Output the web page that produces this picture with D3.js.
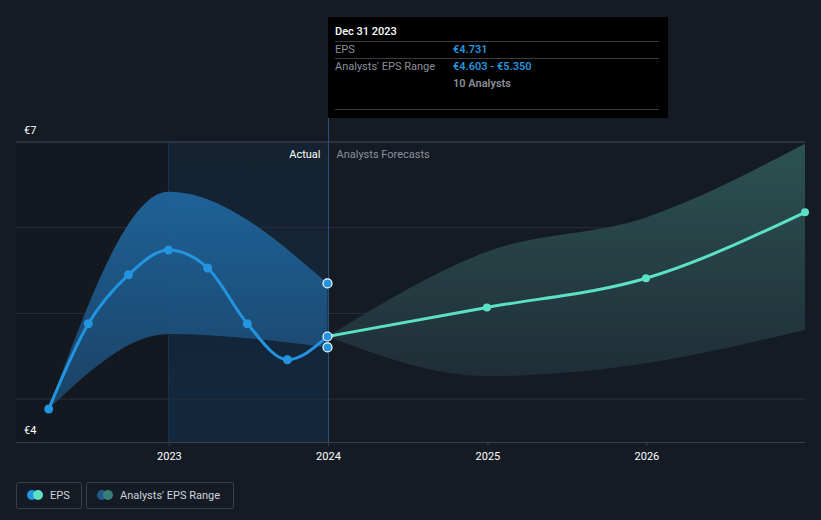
<!DOCTYPE html>
<html><head><meta charset="utf-8">
<script src="https://cdn.jsdelivr.net/npm/d3@7"></script>
<style>
html,body{margin:0;padding:0;background:#151b25;}
svg{display:block;font-family:Roboto,"Open Sans",sans-serif;}
</style></head>
<body><svg id="c" width="821" height="520"></svg>
<script>
// ---- data ----
const actualDates = ["2022-03-31","2022-06-30","2022-09-30","2022-12-31","2023-03-31","2023-06-30","2023-09-30","2023-12-31"];
const actualEPS   = [3.885, 4.88, 5.45, 5.74, 5.53, 4.88, 4.46, 4.731];
const actualRangeDates = ["2022-03-31","2022-12-31","2023-12-31"];
const actualRangeLow  = [3.885, 4.76, 4.603];
const actualRangeHigh = [3.885, 6.42, 5.350];
const forecastDates = ["2023-12-31","2024-12-31","2025-12-31","2026-12-31"];
const forecastEPS   = [4.731, 5.07, 5.41, 6.18];
const forecastLow   = [4.731, 4.27, 4.42, 4.81];
const forecastHigh  = [4.731, 5.72, 6.12, 6.98];
const yTicks = [4, 5, 6, 7];
const yLabels = ["€4", "€7"];
const xTickYears = [2023, 2024, 2025, 2026];

(function(){
const P = d3.timeParse("%Y-%m-%d");
const svg = d3.select("#c");
const pL = 16, pR = 805, pT = 142, pB = 442;

const x = d3.scaleTime().domain([P("2022-01-15"), P("2026-12-31")]).range([pL, pR]);
const y = d3.scaleLinear().domain([3.5, 7]).range([pB, pT]);
const xNow = Math.round(x(P("2023-12-31"))) + 0.5;
const xYearAgo = Math.round(x(P("2022-12-31"))) + 0.5;

const defs = svg.append("defs");
const g1 = defs.append("linearGradient").attr("id","hl").attr("x1",0).attr("x2",0).attr("y1",0).attr("y2",1);
g1.append("stop").attr("offset","0%").attr("stop-color","#142231");
g1.append("stop").attr("offset","100%").attr("stop-color","#13283d");
const g2 = defs.append("linearGradient").attr("id","fc").attr("x1",0).attr("x2",0).attr("y1",0).attr("y2",1);
g2.append("stop").attr("offset","0%").attr("stop-color","#2f5857");
g2.append("stop").attr("offset","100%").attr("stop-color","#203038");
const g3 = defs.append("linearGradient").attr("id","ac").attr("x1",0).attr("x2",0).attr("y1",0).attr("y2",1);
g3.append("stop").attr("offset","0%").attr("stop-color","#1f659c");
g3.append("stop").attr("offset","100%").attr("stop-color","#1b4368");

// past region backgrounds
svg.append("rect").attr("x", pL).attr("y", pT).attr("width", xYearAgo - pL).attr("height", pB - pT).attr("fill", "#141820");
svg.append("rect").attr("x", xYearAgo).attr("y", pT).attr("width", xNow - xYearAgo).attr("height", pB - pT).attr("fill", "url(#hl)");

// gridlines
svg.append("g").selectAll("line").data(yTicks).join("line")
  .attr("x1", pL).attr("x2", pR).attr("y1", d => y(d)).attr("y2", d => y(d))
  .attr("stroke", "#2a303b").attr("stroke-width", 1);
svg.append("line").attr("x1", pL).attr("x2", pR).attr("y1", pT).attr("y2", pT).attr("stroke", "#3a404b");

// vertical lines
svg.append("line").attr("x1", xYearAgo).attr("x2", xYearAgo).attr("y1", pT).attr("y2", pB).attr("stroke", "#1a3249").attr("stroke-width", 1);
svg.append("line").attr("x1", xNow).attr("x2", xNow).attr("y1", 17).attr("y2", pB).attr("stroke", "#2a4f72").attr("stroke-width", 1);

// x axis
const xAxis = d3.axisBottom(x).tickValues(xTickYears.map(yr => new Date(yr, 0, 1))).tickFormat(d3.timeFormat("%Y")).tickSize(4).tickPadding(6);
const ax = svg.append("g").attr("transform", `translate(0,${pB})`).call(xAxis);
ax.select(".domain").attr("stroke", "#3a404b").attr("d", `M${pL},0.5H${pR}`);
ax.selectAll(".tick line").attr("stroke", "#3a404b");
ax.selectAll(".tick text").attr("fill", "#ffffff").attr("font-size", 11).attr("font-family", "Roboto, sans-serif");

// y labels
svg.append("text").attr("x", 24).attr("y", 134).attr("fill", "#fff").attr("font-size", 11).text(yLabels[1]);
svg.append("text").attr("x", 24).attr("y", 434).attr("fill", "#fff").attr("font-size", 11).text(yLabels[0]);

// actual range band
const ar = actualRangeDates.map((d,i) => ({d: P(d), lo: actualRangeLow[i], hi: actualRangeHigh[i]}));
svg.append("path").datum(ar)
  .attr("d", d3.area().x(d => x(d.d)).y0(d => y(d.lo)).y1(d => y(d.hi)).curve(d3.curveMonotoneX))
  .attr("fill", "url(#ac)").attr("opacity", 0.95);

// forecast band
const fr = forecastDates.map((d,i) => ({d: P(d), lo: forecastLow[i], hi: forecastHigh[i], v: forecastEPS[i]}));
svg.append("path").datum(fr)
  .attr("d", d3.area().x(d => x(d.d)).y0(d => y(d.lo)).y1(d => y(d.hi)).curve(d3.curveMonotoneX))
  .attr("fill", "url(#fc)").attr("opacity", 0.9);

// labels Actual / Analysts Forecasts
svg.append("text").attr("x", xNow - 8).attr("y", 158).attr("text-anchor", "end").attr("fill", "#ffffff").attr("font-size", 11).text("Actual");
svg.append("text").attr("x", xNow + 8).attr("y", 158).attr("fill", "#8b9099").attr("font-size", 11).text("Analysts Forecasts");

// forecast line
svg.append("path").datum(fr)
  .attr("d", d3.line().x(d => x(d.d)).y(d => y(d.v)).curve(d3.curveMonotoneX))
  .attr("fill", "none").attr("stroke", "#5ce0c6").attr("stroke-width", 3);
svg.append("g").selectAll("circle").data(fr.slice(1)).join("circle")
  .attr("cx", d => x(d.d)).attr("cy", d => y(d.v)).attr("r", 4).attr("fill", "#5ce0c6");

// actual line
const ae = actualDates.map((d,i) => ({d: P(d), v: actualEPS[i]}));
svg.append("path").datum(ae)
  .attr("d", d3.line().x(d => x(d.d)).y(d => y(d.v)).curve(d3.curveMonotoneX))
  .attr("fill", "none").attr("stroke", "#2394df").attr("stroke-width", 3);
svg.append("g").selectAll("circle").data(ae.slice(0, -1)).join("circle")
  .attr("cx", d => x(d.d)).attr("cy", d => y(d.v)).attr("r", 4.5).attr("fill", "#2394df");

// end markers at now
const lastR = ar[ar.length - 1];
const endPts = [lastR.hi, lastR.lo, actualEPS[actualEPS.length - 1]];
svg.append("g").selectAll("circle").data(endPts).join("circle")
  .attr("cx", x(P("2023-12-31"))).attr("cy", d => y(d)).attr("r", 4.5)
  .attr("fill", "#2394df").attr("stroke", "#ffffff").attr("stroke-width", 1.2);

// tooltip
const tt = svg.append("g");
tt.append("rect").attr("x", xNow - 0.5).attr("y", 17).attr("width", 340).attr("height", 101).attr("fill", "#000000");
tt.append("text").attr("x", 335).attr("y", 35).attr("fill", "#fff").attr("font-size", 11).attr("font-weight", 500).text("Dec 31 2023");
[41, 58, 109].forEach(yy => tt.append("line").attr("x1", 335).attr("x2", 659).attr("y1", yy + 0.5).attr("y2", yy + 0.5).attr("stroke", "#3c3c3c"));
tt.append("text").attr("x", 335).attr("y", 53).attr("fill", "#8a8f97").attr("font-size", 11).text("EPS");
tt.append("text").attr("x", 453).attr("y", 53).attr("fill", "#2394df").attr("font-size", 11).attr("font-weight", 600).text("€" + actualEPS[actualEPS.length - 1].toFixed(3));
tt.append("text").attr("x", 335).attr("y", 70).attr("fill", "#8a8f97").attr("font-size", 11).text("Analysts' EPS Range");
tt.append("text").attr("x", 453).attr("y", 70).attr("fill", "#2394df").attr("font-size", 11).attr("font-weight", 600)
  .text("€" + lastR.lo.toFixed(3) + " - €" + lastR.hi.toFixed(3));
tt.append("text").attr("x", 453).attr("y", 87).attr("fill", "#8a8f97").attr("font-size", 11).attr("font-weight", 600).text("10 Analysts");

// legend
const lg = svg.append("g");
lg.append("rect").attr("x", 16.5).attr("y", 482.5).attr("width", 65).attr("height", 26).attr("rx", 2).attr("fill", "none").attr("stroke", "#3a3f4a");
lg.append("circle").attr("cx", 32).attr("cy", 495).attr("r", 5).attr("fill", "#2394df");
lg.append("circle").attr("cx", 38).attr("cy", 495).attr("r", 5).attr("fill", "#5ce0c6");
lg.append("text").attr("x", 50).attr("y", 499).attr("fill", "#d0d3d8").attr("font-size", 11).text("EPS");
lg.append("rect").attr("x", 86.5).attr("y", 482.5).attr("width", 147).attr("height", 26).attr("rx", 2).attr("fill", "none").attr("stroke", "#3a3f4a");
lg.append("circle").attr("cx", 102).attr("cy", 495).attr("r", 5).attr("fill", "#1f5a8a");
lg.append("circle").attr("cx", 108).attr("cy", 495).attr("r", 5).attr("fill", "#3a7c78");
lg.append("text").attr("x", 120).attr("y", 499).attr("fill", "#d0d3d8").attr("font-size", 11).text("Analysts' EPS Range");
})();
</script></body></html>
